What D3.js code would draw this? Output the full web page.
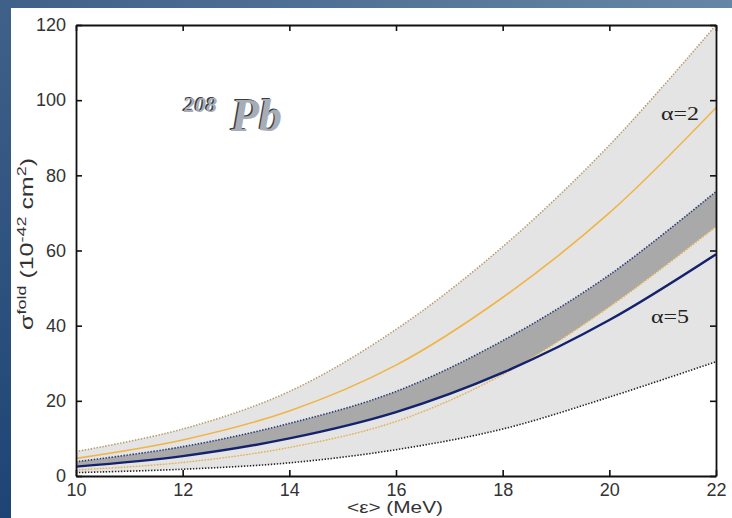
<!DOCTYPE html>
<html>
<head>
<meta charset="utf-8">
<script src="https://cdn.jsdelivr.net/npm/d3@7"></script>
<style>
  html, body { margin: 0; padding: 0; background: #fff; }
  svg { display: block; }
</style>
</head>
<body>
<svg id="chart" width="732" height="518"></svg>
<script>
// Folded cross section for 208Pb versus mean neutrino energy
const energies   = [10, 12, 14, 16, 18, 20, 22];
const outerUpper = [6.5, 12.5, 22.5, 39, 61, 88, 120];   // upper edge of the wide band
const alpha2     = [4.7, 9.6, 17.3, 29.5, 47.5, 70, 98];  // α=2 curve
const bandUpper  = [3.8, 7.8, 14, 22.5, 36, 53.5, 75.7];  // upper edge of the narrow band
const bandLower  = [1.6, 3.6, 7.6, 14.5, 27, 45, 66.3];   // lower edge of the narrow band
const alpha5     = [2.5, 5.3, 10, 17, 27.5, 41.5, 59];    // α=5 curve
const outerLower = [0.9, 1.8, 3.5, 7, 12.5, 21, 30.4];    // lower edge of the wide band

const xTicks = [10, 12, 14, 16, 18, 20, 22];
const yTicks = [0, 20, 40, 60, 80, 100, 120];

const svg = d3.select("#chart");
const W = 732, H = 518;
const plot = { left: 76, top: 25, right: 716, bottom: 476 };

// Backdrop: blue frame with a white panel
const defs = svg.append("defs");
const bg = defs.append("linearGradient").attr("id", "bgGrad")
  .attr("x1", "0").attr("y1", "1").attr("x2", "1").attr("y2", "0");
bg.append("stop").attr("offset", "0").attr("stop-color", "#1d4474");
bg.append("stop").attr("offset", "0.5").attr("stop-color", "#3f6189");
bg.append("stop").attr("offset", "1").attr("stop-color", "#6686a5");
svg.append("rect").attr("width", W).attr("height", H).attr("fill", "url(#bgGrad)");
svg.append("rect").attr("x", 11).attr("y", 8).attr("width", W - 11).attr("height", H - 8).attr("fill", "#ffffff");

const x = d3.scaleLinear().domain([10, 22]).range([plot.left, plot.right]);
const y = d3.scaleLinear().domain([0, 120]).range([plot.bottom, plot.top]);

const pts = arr => energies.map((e, i) => [e, arr[i]]);
const curve = d3.curveCatmullRom.alpha(0.5);

const band = (hi, lo) => d3.area()
  .x((d, i) => x(energies[i]))
  .y0((d, i) => y(lo[i]))
  .y1((d, i) => y(hi[i]))
  .curve(curve)(energies);

const line = d3.line().x(d => x(d[0])).y(d => y(d[1])).curve(curve);

const g = svg.append("g");
defs.append("clipPath").attr("id", "plotClip").append("rect")
  .attr("x", plot.left).attr("y", plot.top)
  .attr("width", plot.right - plot.left).attr("height", plot.bottom - plot.top);
const clipped = g.append("g").attr("clip-path", "url(#plotClip)");

// Wide light band
clipped.append("path").attr("d", band(outerUpper, outerLower)).attr("fill", "#e4e4e4");
// Narrow darker band
clipped.append("path").attr("d", band(bandUpper, bandLower)).attr("fill", "#a9a9a9");
// Light strip between the α=5 curve and the lower narrow-band edge
clipped.append("path").attr("d", band(alpha5, bandLower)).attr("fill", "#e4e4e4");

// Dotted edges
const dotted = [
  { data: outerUpper, color: "#b99a6a" },
  { data: bandUpper,  color: "#283a7a" },
  { data: bandLower,  color: "#e8b450" },
  { data: outerLower, color: "#222222" }
];
dotted.forEach(s => {
  clipped.append("path").attr("d", line(pts(s.data)))
    .attr("fill", "none").attr("stroke", s.color)
    .attr("stroke-width", 1.6).attr("stroke-dasharray", "1.4,1.6");
});

// Solid curves
clipped.append("path").attr("d", line(pts(alpha2)))
  .attr("fill", "none").attr("stroke", "#f0b445").attr("stroke-width", 1.6);
clipped.append("path").attr("d", line(pts(alpha5)))
  .attr("fill", "none").attr("stroke", "#14226e").attr("stroke-width", 2.4);

// Axes with inward ticks on all four sides
const tickFont = "'Liberation Sans', Arial, sans-serif";
const axB = g.append("g").attr("transform", `translate(0,${plot.bottom})`)
  .call(d3.axisBottom(x).tickValues(xTicks).tickSizeInner(-6).tickSizeOuter(0).tickPadding(9));
const axT = g.append("g").attr("transform", `translate(0,${plot.top})`)
  .call(d3.axisTop(x).tickValues(xTicks).tickSizeInner(-6).tickSizeOuter(0).tickFormat(""));
const axL = g.append("g").attr("transform", `translate(${plot.left},0)`)
  .call(d3.axisLeft(y).tickValues(yTicks).tickSizeInner(-6).tickSizeOuter(0).tickPadding(10));
const axR = g.append("g").attr("transform", `translate(${plot.right},0)`)
  .call(d3.axisRight(y).tickValues(yTicks).tickSizeInner(-6).tickSizeOuter(0).tickFormat(""));

[axB, axT, axL, axR].forEach(a => {
  a.select(".domain").attr("stroke", "#111").attr("stroke-width", 1.8);
  a.selectAll(".tick line").attr("stroke", "#111").attr("stroke-width", 1.6);
  a.selectAll(".tick text").attr("font-family", tickFont).attr("font-size", 18).attr("fill", "#333");
});
axB.selectAll(".tick text").attr("dy", "0.6em");

// Axis titles
svg.append("text")
  .attr("x", 395).attr("y", 513)
  .attr("text-anchor", "middle")
  .attr("font-family", tickFont).attr("font-size", 17).attr("fill", "#333")
  .attr("textLength", 96).attr("lengthAdjust", "spacingAndGlyphs")
  .text("<ε> (MeV)");

const yTitle = svg.append("text")
  .attr("transform", "translate(33,244) rotate(-90)")
  .attr("text-anchor", "middle")
  .attr("font-family", tickFont).attr("font-size", 18).attr("fill", "#333")
  .attr("textLength", 172).attr("lengthAdjust", "spacingAndGlyphs");
yTitle.append("tspan").text("σ");
yTitle.append("tspan").attr("font-size", 13).attr("dy", -7).text("fold");
yTitle.append("tspan").attr("dy", 7).text(" (10");
yTitle.append("tspan").attr("font-size", 13).attr("dy", -7).text("-42");
yTitle.append("tspan").attr("dy", 7).text(" cm");
yTitle.append("tspan").attr("font-size", 13).attr("dy", -7).text("2");
yTitle.append("tspan").attr("dy", 7).text(")");

// Curve labels
const serif = "'Liberation Serif', 'DejaVu Serif', serif";
svg.append("text").attr("x", 661).attr("y", 120)
  .attr("font-family", serif).attr("font-size", 19).attr("fill", "#222")
  .attr("textLength", 38).attr("lengthAdjust", "spacingAndGlyphs").text("α=2");
svg.append("text").attr("x", 651).attr("y", 323)
  .attr("font-family", serif).attr("font-size", 19).attr("fill", "#222")
  .attr("textLength", 38).attr("lengthAdjust", "spacingAndGlyphs").text("α=5");

// Nucleus label with a dark relief shadow
const nuc = [
  { dx: -1.4, dy: -1.2, fill: "#3b3f46" },
  { dx: 0, dy: 0, fill: "#a8adb5" }
];
nuc.forEach(s => {
  const t = svg.append("text").attr("x", 184 + s.dx).attr("y", 131 + s.dy)
    .attr("font-family", serif).attr("font-style", "italic").attr("font-weight", "bold")
    .attr("fill", s.fill);
  t.append("tspan").attr("font-size", 22).attr("dy", -19).text("208");
  t.append("tspan").attr("font-size", 46).attr("dx", 14).attr("dy", 19).text("Pb");
});
</script>
</body>
</html>
